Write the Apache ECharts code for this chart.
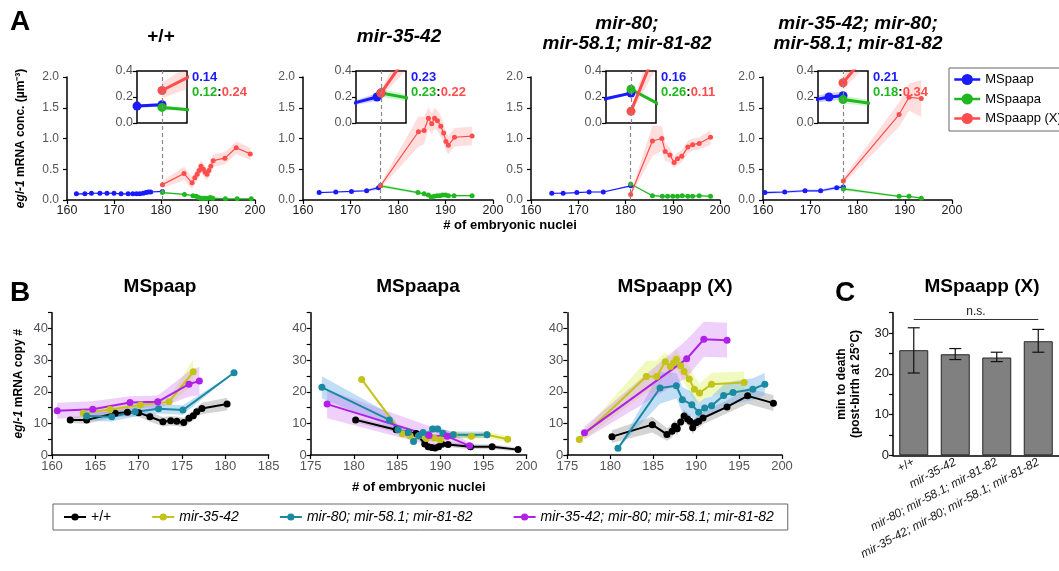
<!DOCTYPE html>
<html lang="en" style="height: 100%">
<head>
  <meta charset="utf-8">
</head>
<body style="height: 100%; margin: 0; background: #fff">
  <div id="container" style="height: 100%"></div>

<script type="text/javascript" src="https://cdn.jsdelivr.net/npm/echarts@6/dist/echarts.min.js"></script>

<script type="text/javascript">
var FONT = '"Liberation Sans", Arial, Helvetica, sans-serif';

// ---------- Panel A: egl-1 concentration, points are [nuclei, conc, sd] ----------
var aTitles = ['+/+', 'mir-35-42', 'mir-80;\nmir-58.1; mir-81-82', 'mir-35-42; mir-80;\nmir-58.1; mir-81-82'];
var aBirth = [180.3, 176.3, 181.1, 177.0];
var aRatios = [['0.14', '0.12', '0.24'], ['0.23', '0.23', '0.22'], ['0.16', '0.26', '0.11'], ['0.21', '0.18', '0.34']];
var aLineNames = ['MSpaap', 'MSpaapa', 'MSpaapp (X)'];

var a1Paap = [[162, 0.10, 0.01], [163.8, 0.10, 0.01], [165.2, 0.11, 0.01], [167, 0.11, 0.01], [168.5, 0.11, 0.01],
  [170, 0.11, 0.01], [171.5, 0.10, 0.01], [173, 0.10, 0.01], [174, 0.10, 0.01], [174.8, 0.10, 0.01], [175.5, 0.10, 0.01],
  [176.2, 0.11, 0.01], [176.8, 0.12, 0.01], [177.3, 0.13, 0.01], [177.8, 0.13, 0.01], [180.3, 0.14, 0.015]];
var a1Paapa = [[180.3, 0.12, 0.015], [185, 0.09, 0.01], [186.8, 0.07, 0.01], [187.5, 0.06, 0.01], [188, 0.04, 0.01],
  [188.5, 0.03, 0.01], [189, 0.03, 0.01], [189.5, 0.03, 0.01], [190, 0.03, 0.01], [190.5, 0.04, 0.01], [191, 0.03, 0.01],
  [193.7, 0.02, 0.01], [196.2, 0.02, 0.01], [199.2, 0.02, 0.01]];
var a1Paapp = [[180.3, 0.25, 0.06], [184.9, 0.43, 0.11], [186.6, 0.28, 0.1], [187.2, 0.36, 0.1], [187.7, 0.42, 0.1],
  [188.1, 0.48, 0.1], [188.5, 0.55, 0.1], [189, 0.50, 0.1], [189.4, 0.45, 0.1], [189.8, 0.42, 0.1], [190.2, 0.48, 0.1],
  [190.6, 0.55, 0.1], [191.1, 0.64, 0.1], [193.6, 0.68, 0.1], [196, 0.85, 0.1], [199, 0.75, 0.1]];

var a2Paap = [[163.4, 0.12, 0.01], [166.9, 0.13, 0.01], [170.2, 0.14, 0.01], [173.4, 0.15, 0.015], [175.9, 0.20, 0.03], [176.3, 0.23, 0.02]];
var a2Paapa = [[176.3, 0.23, 0.03], [184.2, 0.12, 0.02], [185.5, 0.10, 0.015], [186.4, 0.08, 0.015], [187, 0.05, 0.015],
  [187.6, 0.06, 0.015], [188.2, 0.07, 0.015], [188.8, 0.07, 0.015], [189.4, 0.08, 0.015], [190, 0.08, 0.015],
  [190.6, 0.07, 0.015], [191.8, 0.07, 0.015], [195.6, 0.07, 0.015]];
var a2Paapp = [[176.3, 0.23, 0.03], [184.3, 1.11, 0.25], [185.5, 1.13, 0.22], [186.4, 1.33, 0.18], [187.1, 1.24, 0.17],
  [187.7, 1.33, 0.17], [188.3, 1.29, 0.17], [189, 1.20, 0.17], [189.6, 1.09, 0.16], [190.1, 0.95, 0.15], [190.6, 0.89, 0.15],
  [191.9, 1.02, 0.15], [195.6, 1.04, 0.15]];

var a3Paap = [[164.4, 0.11, 0.01], [166.8, 0.11, 0.01], [169.7, 0.12, 0.01], [172.3, 0.13, 0.01], [175.3, 0.13, 0.01], [181.1, 0.23, 0.01]];
var a3Paapa = [[181.1, 0.26, 0.01], [185.7, 0.07, 0.01], [187.8, 0.06, 0.01], [188.9, 0.06, 0.01], [190, 0.06, 0.01],
  [191, 0.06, 0.01], [192, 0.07, 0.01], [193.2, 0.06, 0.01], [194.2, 0.06, 0.01], [195.6, 0.07, 0.01], [198, 0.06, 0.01]];
var a3Paapp = [[181.1, 0.09, 0.02], [185.7, 0.96, 0.25], [187.7, 1.00, 0.2], [188.4, 0.79, 0.15], [189.4, 0.73, 0.12],
  [190.3, 0.61, 0.1], [191, 0.67, 0.1], [191.9, 0.71, 0.1], [193.2, 0.86, 0.1], [194.2, 0.90, 0.1], [195.6, 0.92, 0.1], [198, 1.02, 0.12]];

var a4Paap = [[160.4, 0.12, 0.02], [164.6, 0.13, 0.02], [168.9, 0.15, 0.02], [172.2, 0.15, 0.02], [175.6, 0.20, 0.03], [177, 0.21, 0.03]];
var a4Paapa = [[177, 0.18, 0.03], [188.8, 0.06, 0.01], [190.9, 0.06, 0.01], [193.5, 0.03, 0.01]];
var a4Paapp = [[177, 0.31, 0.05], [188.8, 1.39, 0.2], [190.9, 1.67, 0.22], [193.5, 1.65, 0.3]];

var aData = [[a1Paap, a1Paapa, a1Paapp], [a2Paap, a2Paapa, a2Paapp], [a3Paap, a3Paapa, a3Paapp], [a4Paap, a4Paapa, a4Paapp]];

// ---------- Panel B: egl-1 copy number, points are [nuclei, copies, sd] ----------
var bTitles = ['MSpaap', 'MSpaapa', 'MSpaapp (X)'];
var bNames = ['+/+', 'mir-35-42', 'mir-80; mir-58.1; mir-81-82', 'mir-35-42; mir-80; mir-58.1; mir-81-82'];

var b1Wt = [[162.1, 11.1, 1], [164.0, 11.1, 1.2], [167.3, 13.2, 1.3], [168.7, 13.5, 1.3], [170.0, 13.4, 1.3], [171.3, 12.1, 1.5],
  [172.8, 10.5, 1.5], [173.7, 10.8, 1.5], [174.4, 10.7, 1.5], [175.2, 10.3, 1.5], [175.8, 11.6, 1.5], [176.3, 12.4, 1.5],
  [176.7, 13.7, 1.5], [177.3, 14.7, 1.8], [180.2, 16.1, 2]];
var b1M35 = [[163.6, 13.2, 0.8], [166.7, 14.4, 0.8], [170.2, 15.8, 0.8], [173.5, 16.8, 1], [176.3, 26.3, 4]];
var b1M80 = [[164.0, 12.3, 1.5], [166.9, 12.1, 1.5], [169.6, 13.7, 1.5], [172.3, 14.6, 1.5], [175.1, 14.2, 1.5], [181.0, 26.0, 0]];
var b1Quad = [[160.6, 14.0, 2.5], [164.7, 14.5, 2.5], [169.0, 16.6, 2], [172.2, 16.8, 2], [175.8, 22.4, 4], [177.0, 23.4, 4.5]];

var b2Wt = [[180.2, 11.1, 0.8], [184.9, 8.0, 0.8], [186.3, 7.0, 0.8], [187.2, 6.8, 0.8], [188.2, 3.5, 0.8], [188.6, 2.6, 0.8],
  [189.0, 2.4, 0.8], [189.4, 2.2, 0.8], [189.8, 2.6, 0.8], [190.2, 3.4, 0.8], [190.9, 3.3, 0.8], [193.5, 2.6, 0.8],
  [196.0, 2.6, 0.8], [199.0, 1.7, 0.6]];
var b2M35 = [[180.9, 23.9, 0], [185.6, 6.7, 1], [186.5, 6.1, 1], [187.5, 6.0, 1], [188.4, 5.2, 1], [189.3, 5.4, 1],
  [190.0, 4.8, 1], [191.6, 6.4, 1], [193.6, 5.9, 1], [195.4, 6.4, 1], [197.8, 5.0, 1]];
var b2M80 = [[176.3, 21.4, 3.5], [184.1, 11.1, 2], [185.1, 8.0, 1.5], [186.3, 7.1, 1.5], [186.9, 4.3, 1], [187.5, 6.1, 1],
  [188.0, 7.1, 1], [188.6, 6.4, 1], [189.1, 8.2, 1.2], [189.7, 8.2, 1.2], [190.3, 6.9, 1], [191.5, 6.4, 1], [195.4, 6.4, 1]];
var b2Quad = [[176.9, 16.1, 4.5], [188.7, 6.2, 3], [190.8, 5.9, 2], [193.4, 2.9, 1]];

var b3Wt = [[180.2, 5.8, 2], [184.9, 9.6, 2.5], [186.6, 6.5, 2], [187.2, 7.5, 2], [187.5, 9.1, 2], [187.8, 8.3, 2],
  [188.2, 10.4, 2], [188.6, 12.3, 2], [189.0, 11.4, 2], [189.3, 10.7, 2], [189.6, 8.6, 2], [190.0, 10.2, 2],
  [190.3, 10.7, 2], [190.8, 11.7, 2], [193.6, 15.2, 2], [196.0, 18.7, 2.5], [199.0, 16.4, 2.5]];
var b3M35 = [[176.4, 4.9, 1], [184.2, 24.8, 5], [185.4, 24.8, 5], [186.4, 29.5, 3], [187.0, 28.0, 3], [187.4, 29.2, 3],
  [187.7, 30.3, 3], [188.2, 28.2, 3], [188.6, 26.4, 3.5], [189.2, 24.0, 4], [189.8, 20.8, 4], [190.4, 19.6, 3],
  [191.8, 22.4, 3.5], [195.6, 22.9, 3.5]];
var b3M80 = [[180.9, 2.1, 0], [185.8, 21.2, 5], [187.7, 21.9, 4], [188.4, 17.5, 4], [189.5, 15.9, 4], [190.3, 13.5, 3],
  [191.0, 14.9, 3], [191.8, 15.6, 3], [193.2, 18.8, 3.5], [194.3, 19.8, 3.5], [196.6, 20.8, 3.5], [198.0, 22.4, 3.5]];
var b3Quad = [[177.0, 7.0, 2], [188.9, 30.4, 6], [190.9, 36.6, 5.5], [193.6, 36.3, 5.5]];

var bData = [[b1Wt, b1M35, b1M80, b1Quad], [b2Wt, b2M35, b2M80, b2Quad], [b3Wt, b3M35, b3M80, b3Quad]];
var bXMin = [160, 175, 175];
var bXMax = [185, 200, 200];

// ---------- Panel C: time to death ----------
var cCats = ['+/+', 'mir-35-42', 'mir-80; mir-58.1; mir-81-82', 'mir-35-42; mir-80; mir-58.1; mir-81-82'];
var cMean = [25.8, 24.8, 24.0, 28.0];
var cLow = [20.2, 23.5, 23.0, 25.3];
var cHigh = [31.3, 26.2, 25.3, 30.9];
var cSigLevel = 33.3;

// ---------- colours ----------
var aColors = ['#1a1aff', '#1fb81f', '#ff4d4d'];
var aFills = ['rgba(40,40,255,0.22)', 'rgba(40,200,40,0.22)', 'rgba(255,90,90,0.2)'];
var bColors = ['#000000', '#c3c31a', '#1a8aa0', '#b020e8'];
var bFills = ['rgba(0,0,0,0.17)', 'rgba(222,244,110,0.45)', 'rgba(120,180,236,0.45)', 'rgba(205,120,242,0.35)'];

var dom = document.getElementById('container');
var myChart = echarts.init(dom, null, { renderer: 'canvas' });

var grids = [], xAxes = [], yAxes = [], series = [];

function axisBase(fontSize) {
  return {
    type: 'value',
    axisLine: { show: true, onZero: false, lineStyle: { color: '#000', width: 1.5 } },
    axisTick: { show: true, length: 4, lineStyle: { color: '#000', width: 1.2 } },
    axisLabel: { color: '#1a1a1a', fontSize: fontSize, fontFamily: FONT, margin: 4 },
    splitLine: { show: false }
  };
}

function addGrid(box, x, y) {
  var gi = grids.length;
  grids.push(box);
  xAxes.push(Object.assign(axisBase(12.5), { gridIndex: gi }, x));
  yAxes.push(Object.assign(axisBase(12.5), { gridIndex: gi }, y));
  return gi;
}

function addLine(name, pts, gi, color, lw, ss, extra) {
  series.push(Object.assign({
    type: 'line', name: name, xAxisIndex: gi, yAxisIndex: gi,
    data: pts.map(function (p) { return [p[0], p[1]]; }),
    symbol: 'circle', symbolSize: ss, showAllSymbol: true,
    lineStyle: { color: color, width: lw }, itemStyle: { color: color },
    emphasis: { disabled: true }, z: 3
  }, extra || {}));
}

function addBand(pts, gi, fill) {
  series.push({
    type: 'custom', xAxisIndex: gi, yAxisIndex: gi, clip: true, silent: true, z: 1,
    data: pts.map(function (p) { return [p[0], p[1]]; }),
    renderItem: function (params, api) {
      if (params.dataIndex !== 0) return null;
      var up = pts.map(function (p) { return api.coord([p[0], p[1] + p[2]]); });
      var dn = pts.map(function (p) { return api.coord([p[0], p[1] - p[2]]); }).reverse();
      return { type: 'polygon', shape: { points: up.concat(dn) }, style: { fill: fill } };
    }
  });
}

// ---------- build panel A ----------
var aLeft = [67, 303, 531, 763];
var aWidth = [188, 190, 189, 189];
var insetLeft = [137, 356, 606, 818];
var graphics = [];

aData.forEach(function (set, k) {
  var gi = addGrid({ left: aLeft[k], top: 77, width: aWidth[k], height: 123 },
    { min: 160, max: 200, interval: 10 },
    { min: 0, max: 2, interval: 0.5, axisLabel: { formatter: function (v) { return v.toFixed(1); } } });
  if (k === 0) {
    yAxes[gi].name = '{i|egl-1} mRNA conc. (µm⁻³)';
    yAxes[gi].nameLocation = 'middle';
    yAxes[gi].nameGap = 40;
    yAxes[gi].nameTextStyle = { fontFamily: FONT, fontSize: 12, fontWeight: 'bold', color: '#000',
      rich: { i: { fontFamily: FONT, fontSize: 12, fontWeight: 'bold', fontStyle: 'italic', color: '#000' } } };
  }
  set.forEach(function (pts, j) { addBand(pts, gi, aFills[j]); });
  set.forEach(function (pts, j) {
    var extra = j === 0 ? {
      markLine: { silent: true, symbol: 'none', label: { show: false },
        lineStyle: { color: '#888', type: [4, 3], width: 1.2 },
        data: [[{ coord: [aBirth[k], 0] }, { coord: [aBirth[k], 1.25] }]] }
    } : {};
    addLine(aLineNames[j], pts, gi, aColors[j], 1.2, 5, extra);
  });

  // inset zoomed around the birth of MSpaapa / MSpaapp
  var ii = addGrid({ left: insetLeft[k], top: 71, width: 50, height: 52, show: true,
      backgroundColor: '#fff', borderColor: '#000', borderWidth: 1.5 },
    { min: aBirth[k] - 2.5, max: aBirth[k] + 2.5, axisLine: { show: false }, axisTick: { show: false }, axisLabel: { show: false } },
    { min: 0, max: 0.4, interval: 0.2, axisLine: { show: false },
      axisLabel: { fontSize: 12.5, margin: 4, formatter: function (v) { return v.toFixed(1); } } });
  set.forEach(function (pts, j) { addBand(pts, ii, aFills[j]); });
  set.forEach(function (pts, j) {
    var extra = j === 0 ? {
      markLine: { silent: true, symbol: 'none', label: { show: false },
        lineStyle: { color: '#888', type: [4, 3], width: 1.2 }, data: [{ xAxis: aBirth[k] }] }
    } : {};
    addLine(aLineNames[j], pts, ii, aColors[j], 3, 9, extra);
  });

  var r = aRatios[k];
  graphics.push({
    type: 'text', left: insetLeft[k] + 55, top: 71, z: 10,
    style: {
      text: '{b|' + r[0] + '}\n{g|' + r[1] + '}{k|:}{r|' + r[2] + '}',
      rich: {
        b: { fill: aColors[0], font: 'bold 13px ' + FONT, lineHeight: 15 },
        g: { fill: aColors[1], font: 'bold 13px ' + FONT, lineHeight: 15 },
        k: { fill: '#000', font: 'bold 13px ' + FONT, lineHeight: 15 },
        r: { fill: aColors[2], font: 'bold 13px ' + FONT, lineHeight: 15 }
      }
    }
  });
});

// ---------- build panel B ----------
var bLeft = [52, 310.7, 567.3];
var bWidth = [216.7, 216, 214.7];
bData.forEach(function (set, k) {
  var gi = addGrid({ left: bLeft[k], top: 312.7, width: bWidth[k], height: 142.3 },
    { min: bXMin[k], max: bXMax[k], interval: 5, axisLabel: { fontSize: 13, margin: 5 } },
    { min: 0, max: 45, interval: 5, axisLabel: { fontSize: 13, margin: 4, formatter: function (v) { return v % 10 === 0 ? String(v) : ''; } } });
  if (k === 0) {
    yAxes[gi].name = '{i|egl-1} mRNA copy #';
    yAxes[gi].nameLocation = 'middle';
    yAxes[gi].nameGap = 27;
    yAxes[gi].nameTextStyle = { fontFamily: FONT, fontSize: 12, fontWeight: 'bold', color: '#000',
      rich: { i: { fontFamily: FONT, fontSize: 12, fontWeight: 'bold', fontStyle: 'italic', color: '#000' } } };
  }
  if (k === 1) {
    xAxes[gi].name = '# of embryonic nuclei';
    xAxes[gi].nameLocation = 'middle';
    xAxes[gi].nameGap = 26;
    xAxes[gi].nameTextStyle = { fontFamily: FONT, fontSize: 13, fontWeight: 'bold', color: '#000' };
  }
  set.forEach(function (pts, j) { addBand(pts, gi, bFills[j]); });
  set.forEach(function (pts, j) { addLine(bNames[j], pts, gi, bColors[j], 2, 7); });
});

// ---------- build panel C ----------
var ci = grids.length;
grids.push({ left: 893, top: 312.7, width: 176, height: 142.6 });
xAxes.push({
  type: 'category', gridIndex: ci, data: cCats,
  axisLine: { lineStyle: { color: '#000', width: 1.5 } },
  axisTick: { show: false },
  axisLabel: {
    interval: 0, rotate: 28, margin: 6, color: '#1a1a1a', fontSize: 12, fontFamily: FONT,
    formatter: function (v) { return v === '+/+' ? v : '{i|' + v + '}'; },
    rich: { i: { fontStyle: 'italic', fontSize: 12, fontFamily: FONT, color: '#1a1a1a' } }
  }
});
yAxes.push(Object.assign(axisBase(13), {
  gridIndex: ci, min: 0, max: 35, interval: 5,
  axisLabel: { fontSize: 13, margin: 4, color: '#1a1a1a', fontFamily: FONT,
    formatter: function (v) { return v % 10 === 0 ? String(v) : ''; } },
  name: 'min to death\n(post-birth at 25°C)', nameLocation: 'middle', nameGap: 30,
  nameTextStyle: { fontFamily: FONT, fontSize: 12, fontWeight: 'bold', color: '#000', lineHeight: 14 }
}));
series.push({
  type: 'bar', xAxisIndex: ci, yAxisIndex: ci, data: cMean, barWidth: 29,
  itemStyle: { color: '#808080', borderColor: '#262626', borderWidth: 1 },
  emphasis: { disabled: true },
  markLine: {
    silent: true, symbol: 'none',
    lineStyle: { color: '#333', type: 'solid', width: 1 },
    label: { show: true, position: 'insideMiddleTop', formatter: 'n.s.', color: '#222', fontSize: 12, fontFamily: FONT, distance: 2 },
    data: [[{ coord: [cCats[0], cSigLevel] }, { coord: [cCats[3], cSigLevel] }]]
  }
});
series.push({
  type: 'custom', xAxisIndex: ci, yAxisIndex: ci, z: 5, silent: true,
  data: cCats.map(function (c, i) { return [i, cLow[i], cHigh[i]]; }),
  renderItem: function (params, api) {
    var lo = api.coord([api.value(0), api.value(1)]);
    var hi = api.coord([api.value(0), api.value(2)]);
    var w = 6;
    var st = { stroke: '#111', lineWidth: 1.2 };
    return { type: 'group', children: [
      { type: 'line', shape: { x1: hi[0], y1: hi[1], x2: lo[0], y2: lo[1] }, style: st },
      { type: 'line', shape: { x1: hi[0] - w, y1: hi[1], x2: hi[0] + w, y2: hi[1] }, style: st },
      { type: 'line', shape: { x1: lo[0] - w, y1: lo[1], x2: lo[0] + w, y2: lo[1] }, style: st }
    ] };
  }
});

// ---------- titles ----------
var titleStyle = { fontFamily: FONT, fontSize: 19, fontWeight: 'bold', color: '#000', lineHeight: 20 };
var italicTitle = Object.assign({}, titleStyle, { fontStyle: 'italic' });
var titles = [
  { text: 'A', left: 10, top: 8, textStyle: { fontFamily: FONT, fontSize: 28, fontWeight: 'bold', color: '#000' } },
  { text: 'B', left: 10, top: 279, textStyle: { fontFamily: FONT, fontSize: 28, fontWeight: 'bold', color: '#000' } },
  { text: 'C', left: 835, top: 279, textStyle: { fontFamily: FONT, fontSize: 28, fontWeight: 'bold', color: '#000' } },
  { text: aTitles[0], left: 161, top: 27, textAlign: 'center', textStyle: titleStyle },
  { text: aTitles[1], left: 399, top: 27, textAlign: 'center', textStyle: italicTitle },
  { text: aTitles[2], left: 627, top: 14, textAlign: 'center', textStyle: italicTitle },
  { text: aTitles[3], left: 858, top: 14, textAlign: 'center', textStyle: italicTitle },
  { text: '# of embryonic nuclei', left: 510, top: 219, textAlign: 'center',
    textStyle: { fontFamily: FONT, fontSize: 13, fontWeight: 'bold', color: '#000' } },
  { text: bTitles[0], left: 160, top: 277, textAlign: 'center', textStyle: titleStyle },
  { text: bTitles[1], left: 418, top: 277, textAlign: 'center', textStyle: titleStyle },
  { text: bTitles[2], left: 675, top: 277, textAlign: 'center', textStyle: titleStyle },
  { text: 'MSpaapp (X)', left: 982, top: 277, textAlign: 'center', textStyle: titleStyle }
];
titles.forEach(function (t) { t.padding = 0; });

var option = {
  backgroundColor: '#fff',
  animation: false,
  title: titles,
  grid: grids,
  xAxis: xAxes,
  yAxis: yAxes,
  graphic: graphics,
  legend: [
    {
      data: aLineNames, orient: 'vertical', left: 949, top: 68,
      padding: [5, 40, 6, 4], itemGap: 6.5, itemWidth: 26, itemHeight: 14,
      borderColor: '#666', borderWidth: 1,
      lineStyle: { width: 2.5 },
      textStyle: { fontFamily: FONT, fontSize: 13, color: '#000' }
    },
    {
      data: bNames, left: 53, top: 504, padding: [6, 14, 6, 10], itemGap: 40,
      itemWidth: 22, itemHeight: 9, borderColor: '#666', borderWidth: 1,
      lineStyle: { width: 2 },
      textStyle: { fontFamily: FONT, fontSize: 14, color: '#000',
        rich: { i: { fontFamily: FONT, fontSize: 14, fontStyle: 'italic', color: '#000' } } },
      formatter: function (n) { return n === '+/+' ? n : '{i|' + n + '}'; }
    }
  ],
  series: series
};

myChart.setOption(option);
window.addEventListener('resize', myChart.resize);
</script>
</body>
</html>
